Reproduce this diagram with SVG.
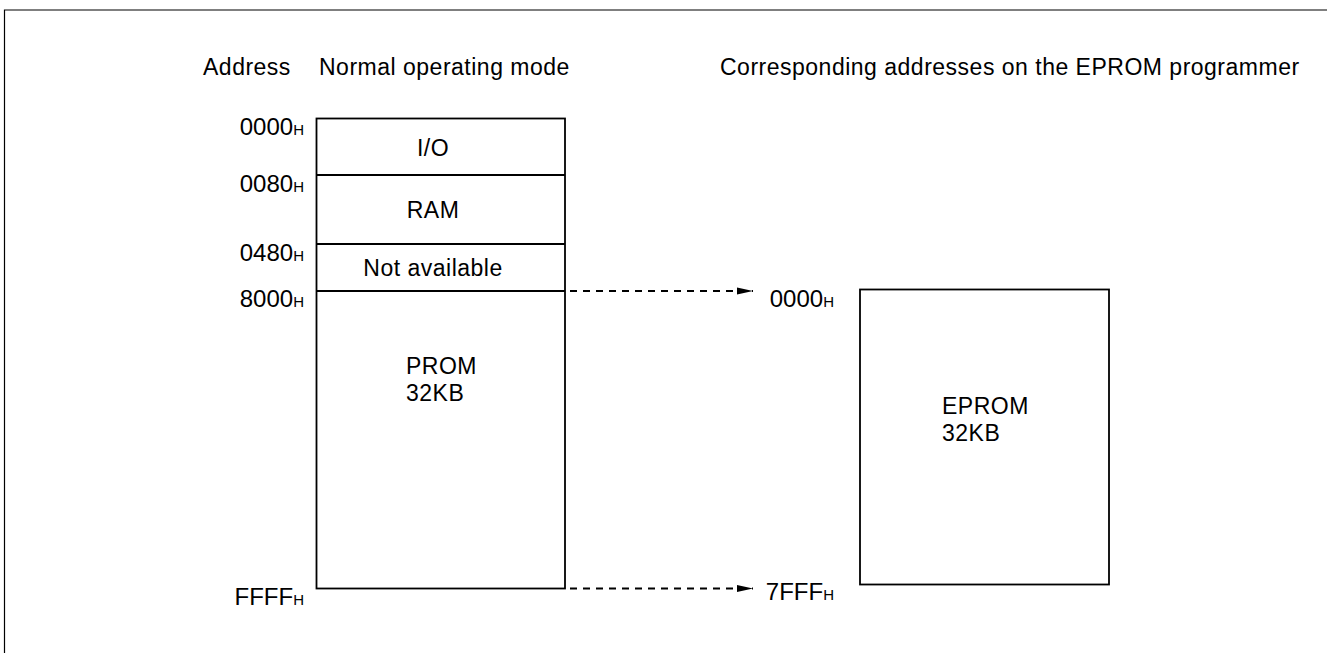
<svg xmlns="http://www.w3.org/2000/svg" width="1327" height="653" viewBox="0 0 1327 653">
<style>
text{font-family:"Liberation Sans",Arial,sans-serif;font-size:23px;letter-spacing:0.5px;fill:#000}
.a{font-size:24px;letter-spacing:0}
.s{font-size:15px;letter-spacing:0}
.box{fill:none;stroke:#000;stroke-width:1.8}
.dash{stroke:#000;stroke-width:1.8;stroke-dasharray:7,6;fill:none}
</style>
<defs>
<marker id="ah" markerWidth="16" markerHeight="8" refX="16" refY="4" orient="auto" markerUnits="userSpaceOnUse">
<path d="M0,0.5 L16,4 L0,7.5 Z" fill="#000"/>
</marker>
</defs>
<path d="M1327,10 H4.5 V653" fill="none" stroke="#000" stroke-width="1.2"/>
<text x="203" y="75">Address</text>
<text x="319" y="75">Normal operating mode</text>
<text x="720" y="75">Corresponding addresses on the EPROM programmer</text>
<g id="addr">
<text class="a" x="304" y="135" text-anchor="end">0000<tspan class="s">H</tspan></text>
<text class="a" x="304" y="192" text-anchor="end">0080<tspan class="s">H</tspan></text>
<text class="a" x="304" y="261" text-anchor="end">0480<tspan class="s">H</tspan></text>
<text class="a" x="304" y="307" text-anchor="end">8000<tspan class="s">H</tspan></text>
<text class="a" x="304" y="605" text-anchor="end">FFFF<tspan class="s">H</tspan></text>
</g>
<g id="normal">
<rect class="box" x="316.5" y="118.5" width="248.5" height="470"/>
<line class="box" x1="316.5" y1="175" x2="565" y2="175"/>
<line class="box" x1="316.5" y1="244" x2="565" y2="244"/>
<line class="box" x1="316.5" y1="291" x2="565" y2="291"/>
<text x="433" y="156" text-anchor="middle">I/O</text>
<text x="433" y="218" text-anchor="middle">RAM</text>
<text x="433" y="276" text-anchor="middle">Not available</text>
<text x="406" y="374">PROM</text>
<text x="406" y="401">32KB</text>
</g>
<g id="eprom">
<rect class="box" x="860" y="289.5" width="249" height="295"/>
<text x="942" y="414">EPROM</text>
<text x="942" y="441">32KB</text>
<text class="a" x="834" y="307" text-anchor="end">0000<tspan class="s">H</tspan></text>
<text class="a" x="834" y="600" text-anchor="end">7FFF<tspan class="s">H</tspan></text>
</g>
<g id="connectors">
<line class="dash" x1="570" y1="291" x2="753" y2="291" marker-end="url(#ah)"/>
<line class="dash" x1="570" y1="588.5" x2="753" y2="588.5" marker-end="url(#ah)"/>
</g>
</svg>
